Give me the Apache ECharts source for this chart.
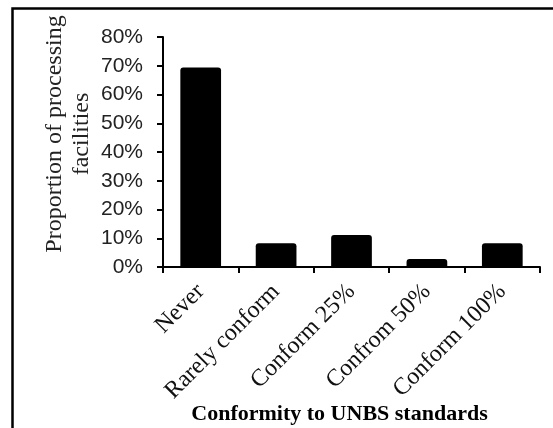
<!DOCTYPE html>
<html><head><meta charset="utf-8">
<script src="https://cdn.jsdelivr.net/npm/echarts@6/dist/echarts.min.js"></script>
<style>html,body{margin:0;padding:0;background:#fff}#c{width:553px;height:428px}</style>
</head><body><div id="c"></div>
<script>
const categories = ['Never', 'Rarely conform', 'Conform 25%', 'Confrom 50%', 'Conform 100%'];
const values = [69.4, 8.3, 11.1, 2.8, 8.3];
const yTicks = [0, 10, 20, 30, 40, 50, 60, 70, 80];
const yTitle = 'Proportion of processing\nfacilities';
const xTitle = 'Conformity to UNBS standards';

const chart = echarts.init(document.getElementById('c'), null, {renderer: 'canvas'});
chart.setOption({
  animation: false,
  backgroundColor: '#fff',
  grid: {left: 163, right: 13, top: 37, bottom: 161, containLabel: false, outerBoundsMode: 'none'},
  xAxis: {
    type: 'category',
    data: categories,
    axisLine: {lineStyle: {color: '#000', width: 2}},
    axisTick: {show: true, length: 6, lineStyle: {color: '#000', width: 2}},
    axisLabel: {rotate: 45, color: '#111', fontFamily: 'Liberation Serif', fontSize: 24, margin: 21, interval: 0},
    name: xTitle,
    nameLocation: 'middle',
    nameGap: 136,
    nameMoveOverlap: false,
    nameTextStyle: {fontFamily: 'Liberation Serif', fontWeight: 'bold', fontSize: 22, color: '#000', padding: [0, 24, 0, 0]}
  },
  yAxis: {
    type: 'value',
    min: yTicks[0], max: yTicks[yTicks.length - 1], interval: 10,
    splitLine: {show: false},
    axisLine: {show: true, lineStyle: {color: '#000', width: 2}},
    axisTick: {show: true, length: 6, lineStyle: {color: '#000', width: 2}},
    axisLabel: {formatter: '{value}%', color: '#222', fontFamily: 'Liberation Sans', fontSize: 21, margin: 20}
  },
  graphic: [
    {type: 'rect', left: 10, top: 6, shape: {width: 560, height: 440}, style: {fill: 'none', stroke: '#000', lineWidth: 2.5}, silent: true},
    {type: 'text', x: 68, y: 134, rotation: Math.PI / 2,
     style: {text: yTitle, fontFamily: 'Liberation Serif', fontSize: 24, lineHeight: 27, fill: '#222', align: 'center', verticalAlign: 'middle'}}
  ],
  series: [{
    type: 'bar',
    data: values,
    barWidth: '54%',
    itemStyle: {color: '#000', borderRadius: [3, 3, 0, 0]}
  }]
});
</script></body></html>
